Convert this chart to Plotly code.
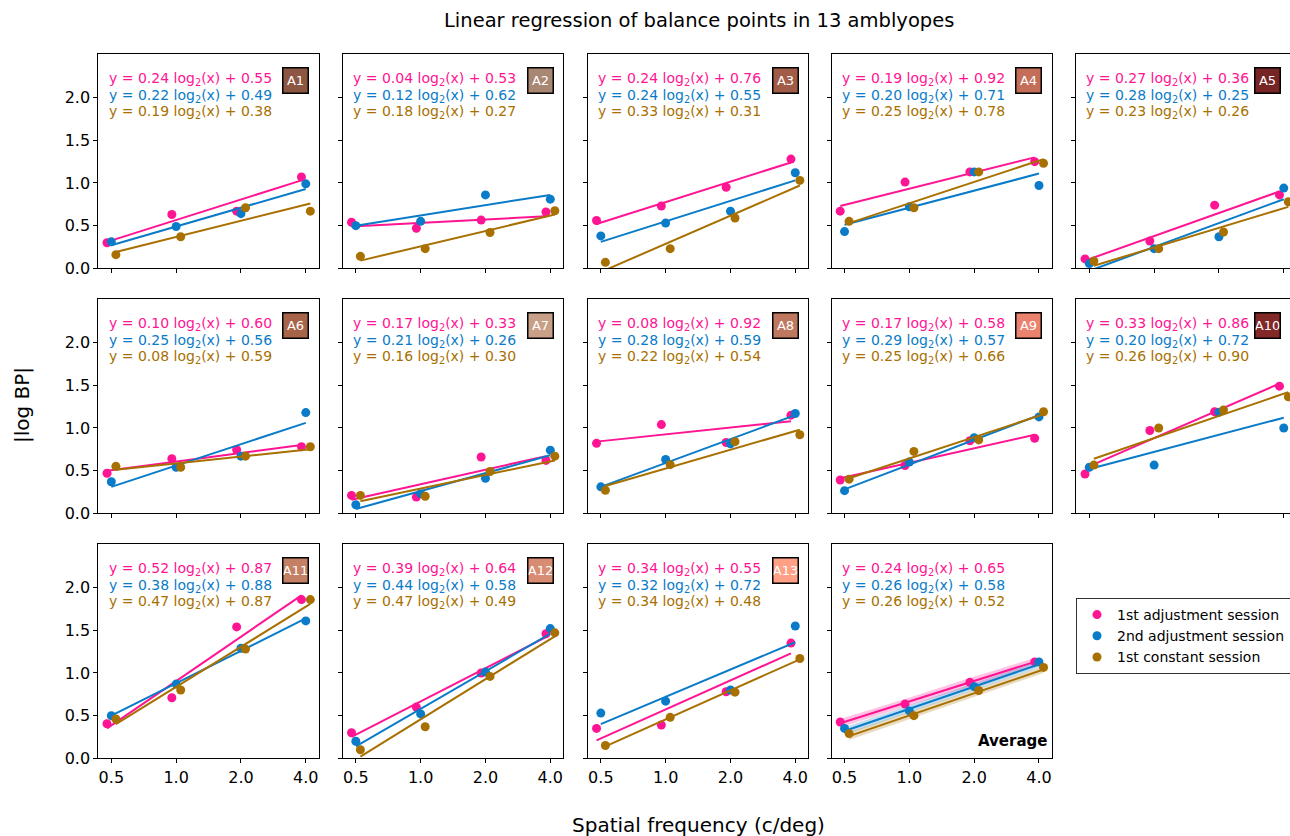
import numpy as np
import plotly.graph_objects as go

# ---------------- data ----------------
FREQ = [0.5, 1.0, 2.0, 4.0]
FREQ_LABELS = ["0.5", "1.0", "2.0", "4.0"]
Y_TICKS = [0.0, 0.5, 1.0, 1.5, 2.0]
PANEL_NAMES = ["A1", "A2", "A3", "A4", "A5", "A6", "A7", "A8", "A9", "A10",
               "A11", "A12", "A13", "Average"]
SESSION_NAMES = ["1st adjustment session", "2nd adjustment session", "1st constant session"]

ADJ1_BP = [
    [0.30, 0.63, 0.67, 1.07],
    [0.54, 0.47, 0.565, 0.66],
    [0.56, 0.73, 0.95, 1.28],
    [0.67, 1.01, 1.13, 1.25],
    [0.11, 0.32, 0.74, 0.86],
    [0.47, 0.64, 0.745, 0.78],
    [0.21, 0.19, 0.66, 0.62],
    [0.82, 1.04, 0.83, 1.15],
    [0.39, 0.56, 0.85, 0.88],
    [0.46, 0.97, 1.19, 1.49],
    [0.405, 0.71, 1.54, 1.86],
    [0.30, 0.60, 1.00, 1.46],
    [0.35, 0.39, 0.78, 1.35],
    [0.425, 0.635, 0.89, 1.13],
]
ADJ2_BP = [
    [0.31, 0.49, 0.64, 0.99],
    [0.50, 0.55, 0.86, 0.81],
    [0.38, 0.53, 0.67, 1.12],
    [0.43, 0.72, 1.13, 0.97],
    [0.055, 0.23, 0.37, 0.94],
    [0.37, 0.54, 0.67, 1.18],
    [0.10, 0.23, 0.41, 0.74],
    [0.31, 0.63, 0.815, 1.17],
    [0.265, 0.60, 0.885, 1.13],
    [0.54, 0.565, 1.185, 1.00],
    [0.50, 0.87, 1.29, 1.61],
    [0.20, 0.52, 1.01, 1.52],
    [0.53, 0.67, 0.80, 1.55],
    [0.35, 0.555, 0.84, 1.13],
]
CONST_BP = [
    [0.16, 0.37, 0.71, 0.67],
    [0.14, 0.23, 0.42, 0.675],
    [0.07, 0.23, 0.59, 1.03],
    [0.55, 0.71, 1.13, 1.23],
    [0.085, 0.23, 0.425, 0.78],
    [0.55, 0.54, 0.67, 0.78],
    [0.21, 0.20, 0.49, 0.67],
    [0.27, 0.57, 0.84, 0.92],
    [0.40, 0.725, 0.86, 1.19],
    [0.565, 1.00, 1.21, 1.365],
    [0.46, 0.80, 1.28, 1.86],
    [0.10, 0.37, 0.96, 1.47],
    [0.15, 0.48, 0.775, 1.17],
    [0.29, 0.50, 0.795, 1.065],
]
ADJ1_SLOPE = [0.24, 0.04, 0.24, 0.19, 0.27, 0.10, 0.17, 0.08, 0.17, 0.33, 0.52, 0.39, 0.34, 0.24]
ADJ1_INTERCEPT = [0.55, 0.53, 0.76, 0.92, 0.36, 0.60, 0.33, 0.92, 0.58, 0.86, 0.87, 0.64, 0.55, 0.65]
ADJ2_SLOPE = [0.22, 0.12, 0.24, 0.20, 0.28, 0.25, 0.21, 0.28, 0.29, 0.20, 0.38, 0.44, 0.32, 0.26]
ADJ2_INTERCEPT = [0.49, 0.62, 0.55, 0.71, 0.25, 0.56, 0.26, 0.59, 0.57, 0.72, 0.88, 0.58, 0.72, 0.58]
CONST_SLOPE = [0.19, 0.18, 0.33, 0.25, 0.23, 0.08, 0.16, 0.22, 0.25, 0.26, 0.47, 0.47, 0.34, 0.26]
CONST_INTERCEPT = [0.38, 0.27, 0.31, 0.78, 0.26, 0.59, 0.30, 0.54, 0.66, 0.90, 0.87, 0.49, 0.48, 0.52]

# half-width of the shaded band on the average panel
AVG_BAND_ADJ1 = [0.05, 0.045, 0.05, 0.045]
AVG_BAND_ADJ2 = [0.045, 0.04, 0.04, 0.04]
AVG_BAND_CONST = [0.045, 0.045, 0.04, 0.04]

BADGE_COLORS = ["#8c5642", "#a88773", "#a05c46", "#c46e5a", "#762424", "#a86448",
                "#c8a087", "#be785f", "#eb826e", "#822828", "#c48064", "#d78c73", "#ffa087"]

# ---------------- style ----------------
SESSION_COLORS = ["#ff1493", "#0a7bc8", "#a87000"]
BAND_COLORS = ["rgba(255,20,147,0.25)", "rgba(10,123,200,0.25)", "rgba(168,112,0,0.25)"]
JITTER = [0.955, 1.0, 1.05]
FONT = "DejaVu Sans"
W, H = 1290, 836
COL_LEFT = [98.3, 342.8, 587.8, 831.5, 1076.3]
PANEL_W = 220.5
ROW_TOP = [54.3, 299.3, 544.3]
PANEL_H = 214.0
YMAX = 2.508
L2 = np.log10(2)

BP = [ADJ1_BP, ADJ2_BP, CONST_BP]
SLOPE = [ADJ1_SLOPE, ADJ2_SLOPE, CONST_SLOPE]
INTER = [ADJ1_INTERCEPT, ADJ2_INTERCEPT, CONST_INTERCEPT]
BANDS = [AVG_BAND_ADJ1, AVG_BAND_ADJ2, AVG_BAND_CONST]

fig = go.Figure()
annotations = []
layout_axes = {}

for i, name in enumerate(PANEL_NAMES):
    if i < 13:
        r, c = divmod(i, 5)
    else:
        r, c = 2, 3
    n = i + 1
    xs = "" if n == 1 else str(n)
    xa, ya = "x" + xs, "y" + xs
    left = COL_LEFT[c]
    right = min(left + PANEL_W, W)
    top = ROW_TOP[r]
    bottom = top + PANEL_H
    span = (right - left) / PANEL_W * 3.402
    xr = [-1.201 * L2, (-1.201 + span) * L2]
    last_col = (c == 4)
    show_xlab = (r == 2)
    show_ylab = (c == 0)
    layout_axes["xaxis" + xs] = dict(
        domain=[left / W, right / W], type="log", range=xr, anchor=ya,
        tickmode="array", tickvals=FREQ, ticktext=FREQ_LABELS,
        showticklabels=show_xlab, ticks="outside", ticklen=4, tickwidth=1,
        tickcolor="black", showline=True, linecolor="black", linewidth=1,
        mirror=True, showgrid=False, zeroline=False,
        tickfont=dict(family=FONT, size=16, color="black"),
    )
    layout_axes["yaxis" + xs] = dict(
        domain=[1 - bottom / H, 1 - top / H], range=[0, YMAX], anchor=xa,
        tickmode="array", tickvals=Y_TICKS, ticktext=[f"{v:.1f}" for v in Y_TICKS],
        showticklabels=show_ylab, ticks="outside", ticklen=4, tickwidth=1,
        tickcolor="black", showline=True, linecolor="black", linewidth=1,
        mirror=(False if last_col else True), showgrid=False, zeroline=False,
        tickfont=dict(family=FONT, size=16, color="black"),
    )

    for s in range(3):
        a, b = SLOPE[s][i], INTER[s][i]
        fx = np.array(FREQ)
        if i == 13:
            yl = a * np.log2(fx) + b
            band = np.array(BANDS[s])
            bx = list(fx * JITTER[s]) + list((fx * JITTER[s])[::-1])
            by = list(yl + band) + list((yl - band)[::-1])
            fig.add_trace(go.Scatter(x=bx, y=by, xaxis=xa, yaxis=ya, mode="lines",
                                     fill="toself", fillcolor=BAND_COLORS[s],
                                     line=dict(width=0), hoverinfo="skip",
                                     showlegend=False))
        ends = np.array([FREQ[0], FREQ[-1]])
        fig.add_trace(go.Scatter(
            x=ends * JITTER[s], y=a * np.log2(ends) + b, xaxis=xa, yaxis=ya,
            mode="lines", line=dict(color=SESSION_COLORS[s], width=2),
            showlegend=False, hoverinfo="skip"))
        fig.add_trace(go.Scatter(
            x=fx * JITTER[s], y=BP[s][i], xaxis=xa, yaxis=ya, mode="markers",
            marker=dict(color=SESSION_COLORS[s], size=9, line=dict(width=0)),
            name=SESSION_NAMES[s], showlegend=(i == 0)))
        eq = f"y = {a:.2f} log<sub>2</sub>(x) + {b:.2f}"
        annotations.append(dict(
            xref=xa + " domain", yref=ya + " domain", x=8.4 / PANEL_W,
            y=1 - (24.5 + 16.7 * s) / PANEL_H, xanchor="left", yanchor="middle",
            text=eq, showarrow=False,
            font=dict(family=FONT, size=14, color=SESSION_COLORS[s])))

    if i < 13:
        three = len(name) > 2
        annotations.append(dict(
            xref=xa + " domain", yref=ya + " domain", x=197.2 / PANEL_W,
            y=1 - 26.0 / PANEL_H, xanchor="center", yanchor="middle",
            text=name, showarrow=False, bgcolor=BADGE_COLORS[i],
            bordercolor="black", borderwidth=1.5,
            borderpad=(0 if three else 3),
            width=(24 if three else 18), height=(24 if three else 18),
            font=dict(family=FONT, size=13, color="white")))
    else:
        annotations.append(dict(
            xref=xa + " domain", yref=ya + " domain", x=1 - 3.0 / PANEL_W,
            y=17.3 / PANEL_H, xanchor="right", yanchor="middle",
            text="<b>Average</b>", showarrow=False,
            font=dict(family=FONT, size=15, color="black")))

annotations.append(dict(xref="paper", yref="paper", x=698 / W, y=1 - 825 / H,
                        xanchor="center", yanchor="middle", showarrow=False,
                        text="Spatial frequency (c/deg)",
                        font=dict(family=FONT, size=20, color="black")))
annotations.append(dict(xref="paper", yref="paper", x=22 / W, y=1 - 405 / H,
                        xanchor="center", yanchor="middle", showarrow=False,
                        text="|log BP|", textangle=-90,
                        font=dict(family=FONT, size=20, color="black")))
annotations.append(dict(xref="paper", yref="paper", x=699 / W, y=1 - 20 / H,
                        xanchor="center", yanchor="middle", showarrow=False,
                        text="Linear regression of balance points in 13 amblyopes",
                        font=dict(family=FONT, size=19.5, color="black")))

fig.update_layout(
    width=W, height=H, plot_bgcolor="white", paper_bgcolor="white",
    margin=dict(l=0, r=0, t=0, b=0, autoexpand=False),
    annotations=annotations,
    legend=dict(x=1076 / W, y=1 - 598 / H, xanchor="left", yanchor="top",
                bordercolor="#333333", borderwidth=1, bgcolor="white",
                font=dict(family=FONT, size=14, color="black"),
                tracegroupgap=0),
    font=dict(family=FONT),
    **layout_axes,
)

fig.write_html("out.html", config={"displayModeBar": False},
               post_script="document.body.style.margin='0';")
